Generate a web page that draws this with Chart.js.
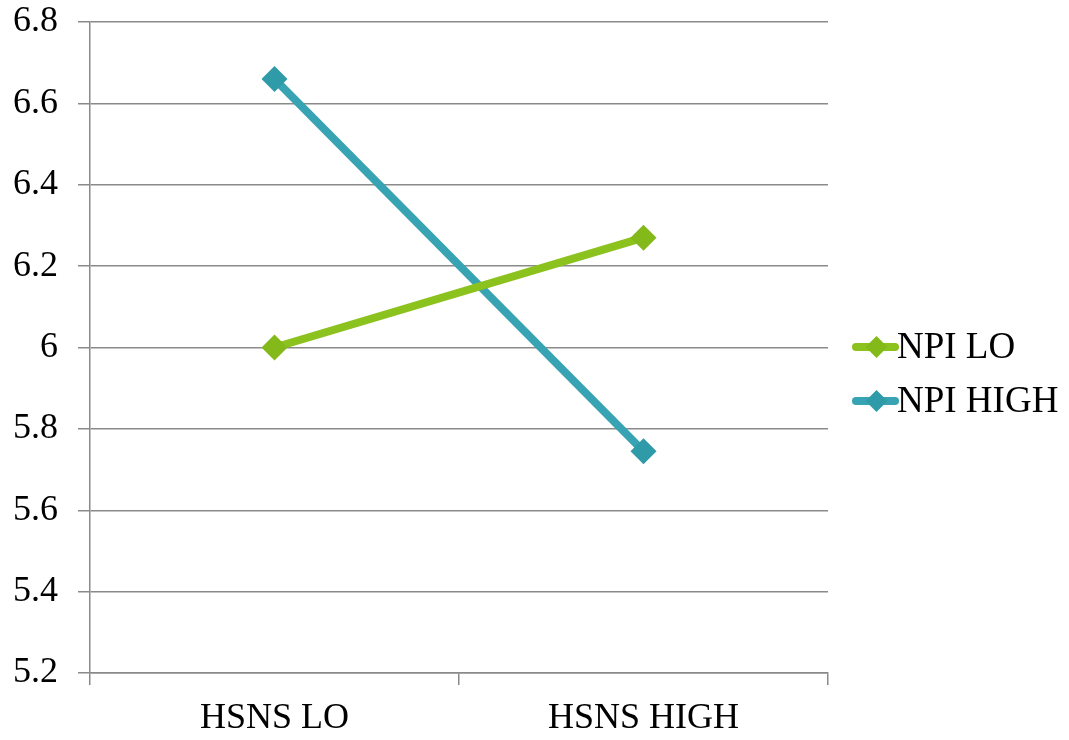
<!DOCTYPE html>
<html>
<head>
<meta charset="utf-8">
<script src="https://cdn.jsdelivr.net/npm/chart.js@4/dist/chart.umd.min.js"></script>
<style>
  html, body { margin: 0; padding: 0; background: #ffffff; }
  #wrap { width: 1069px; height: 740px; position: relative; }
</style>
</head>
<body>
<div id="wrap"><canvas id="c" width="1069" height="740"></canvas></div>
<script>
// Interaction plot: mean scores by HSNS level for low / high NPI groups
const categories = ['HSNS LO', 'HSNS HIGH'];
const npiLo = [6.0, 6.27];
const npiHigh = [6.66, 5.745];
const seriesNames = ['NPI LO', 'NPI HIGH'];
const yTickValues = [5.2, 5.4, 5.6, 5.8, 6.0, 6.2, 6.4, 6.6, 6.8];
const yTickLabels = ['5.2', '5.4', '5.6', '5.8', '6', '6.2', '6.4', '6.6', '6.8'];

const FONT = '"Liberation Serif", "DejaVu Serif", serif';
const GREEN = '#8cc21d';
const TEAL = '#38a3b2';
const GRID = '#8a8a8a';

// Legend drawn at the right: a short line with a diamond, then the series name
const sideLegend = {
  id: 'sideLegend',
  afterDraw(chart) {
    const ctx = chart.ctx;
    const items = chart.data.datasets;
    const x0 = 856, x1 = 895, yStart = 347, gap = 54;
    ctx.save();
    items.forEach((ds, i) => {
      const y = yStart + i * gap;
      ctx.strokeStyle = ds.borderColor;
      ctx.lineWidth = 8;
      ctx.lineCap = 'round';
      ctx.beginPath();
      ctx.moveTo(x0, y);
      ctx.lineTo(x1, y);
      ctx.stroke();
      const cx = (x0 + x1) / 2 + 1, r = 11;
      ctx.fillStyle = ds.pointBackgroundColor;
      ctx.beginPath();
      ctx.moveTo(cx, y - r);
      ctx.lineTo(cx + r, y);
      ctx.lineTo(cx, y + r);
      ctx.lineTo(cx - r, y);
      ctx.closePath();
      ctx.fill();
      ctx.fillStyle = '#000';
      ctx.font = '37px ' + FONT;
      ctx.textBaseline = 'middle';
      ctx.textAlign = 'left';
      ctx.fillText(ds.label, x1 + 2, y + 1);
    });
    ctx.restore();
  }
};

new Chart(document.getElementById('c'), {
  type: 'line',
  data: {
    labels: categories,
    datasets: [
      {
        label: seriesNames[0],
        data: npiLo,
        borderColor: GREEN,
        backgroundColor: GREEN,
        pointBackgroundColor: '#84b91a',
        pointBorderColor: '#84b91a',
        borderWidth: 8,
        pointStyle: 'rectRot',
        pointRadius: 13,
        pointBorderWidth: 0,
        tension: 0
      },
      {
        label: seriesNames[1],
        data: npiHigh,
        borderColor: TEAL,
        backgroundColor: TEAL,
        pointBackgroundColor: '#2f9aa8',
        pointBorderColor: '#2f9aa8',
        borderWidth: 8,
        pointStyle: 'rectRot',
        pointRadius: 13,
        pointBorderWidth: 0,
        tension: 0
      }
    ]
  },
  options: {
    responsive: false,
    animation: false,
    devicePixelRatio: 1,
    layout: { autoPadding: false, padding: { left: 0, top: 22, right: 241, bottom: 0 } },
    plugins: {
      legend: { display: false },
      tooltip: { enabled: false }
    },
    scales: {
      x: {
        type: 'category',
        offset: true,
        grid: {
          offset: true,
          drawOnChartArea: false,
          drawTicks: true,
          tickLength: 12,
          color: GRID,
          lineWidth: 1.5
        },
        border: { display: true, color: GRID, width: 1.5 },
        ticks: {
          color: '#000',
          font: { family: FONT, size: 36 },
          padding: 12,
          maxRotation: 0
        },
        afterFit(scale) {
          scale.height = 67;
          scale.paddingLeft = 0;
          scale.paddingRight = 0;
        }
      },
      y: {
        min: 5.2,
        max: 6.8,
        afterBuildTicks(scale) {
          scale.ticks = yTickValues.map(v => ({ value: v }));
        },
        grid: {
          drawTicks: true,
          tickLength: 12,
          color: GRID,
          lineWidth: 1.5
        },
        border: { display: true, color: GRID, width: 1.5 },
        ticks: {
          color: '#000',
          font: { family: FONT, size: 36 },
          padding: 20,
          callback(value, index) { return yTickLabels[index]; }
        },
        afterFit(scale) {
          scale.width = 90;
          scale.paddingTop = 0;
          scale.paddingBottom = 0;
        }
      }
    }
  },
  plugins: [sideLegend]
});
</script>
</body>
</html>
